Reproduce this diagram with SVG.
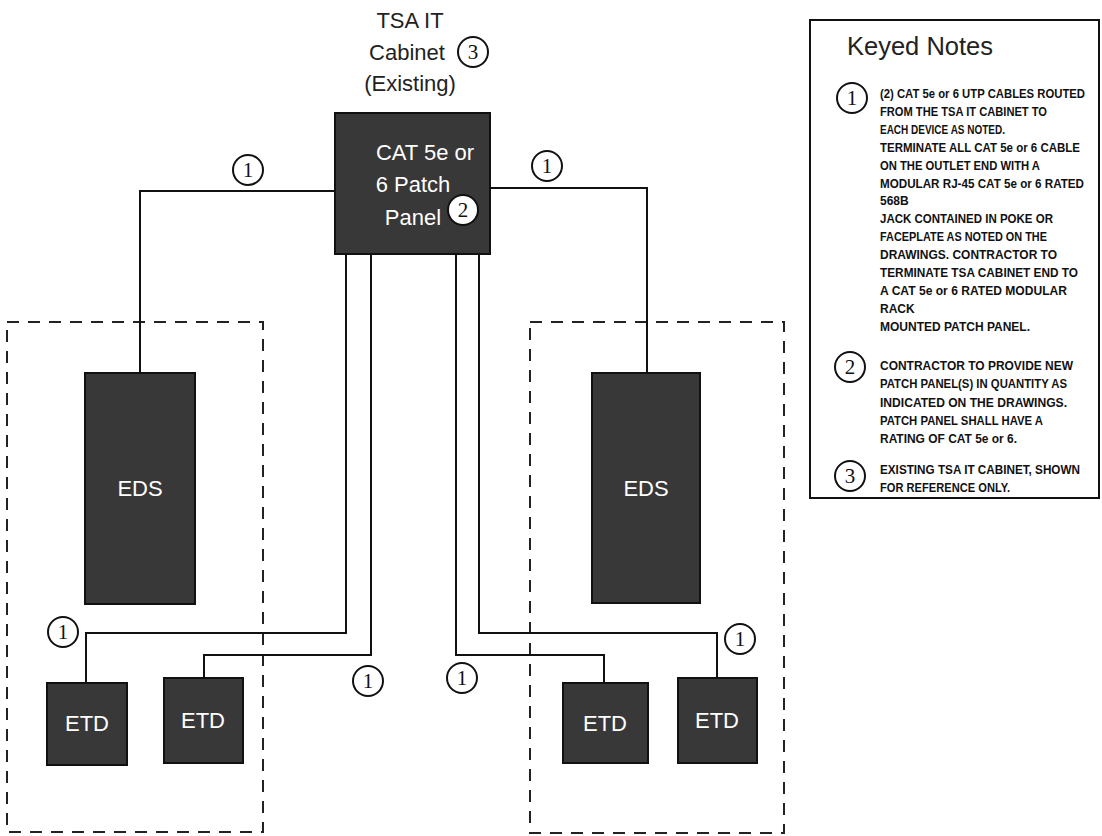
<svg xmlns="http://www.w3.org/2000/svg" width="1102" height="836" viewBox="0 0 1102 836">
<style>
.node{fill:#383838;stroke:#111;stroke-width:2}
.wt{fill:#fff;font-family:"Liberation Sans",Arial,sans-serif;font-size:22px;text-anchor:middle}
.lbl{fill:#222;font-family:"Liberation Sans",Arial,sans-serif;font-size:22px;text-anchor:middle}
.wire{fill:none;stroke:#111;stroke-width:2}
.zone{fill:none;stroke:#222;stroke-width:2;stroke-dasharray:12 9}
.kc{fill:#fff;stroke:#111;stroke-width:2}
.kn{fill:#111;font-family:"Liberation Serif","Times New Roman",serif;font-size:21px;text-anchor:middle}
.nt{fill:#111;font-family:"Liberation Sans",Arial,sans-serif;font-size:12px;font-weight:bold}
.ttl{fill:#222;font-family:"Liberation Sans",Arial,sans-serif;font-size:25px}
</style>
<rect width="1102" height="836" fill="#fff"/>

<g id="zones">
<rect class="zone" x="7" y="322" width="256" height="510"/>
<rect class="zone" x="530" y="322" width="254" height="511"/>
</g>

<g id="connectors">
<polyline class="wire" points="335,191 140,191 140,373"/>
<polyline class="wire" points="490,188 647,188 647,373"/>
<polyline class="wire" points="346,254 346,633 86,633 86,683"/>
<polyline class="wire" points="371,254 371,655 204,655 204,678"/>
<polyline class="wire" points="456,254 456,655 604,655 604,683"/>
<polyline class="wire" points="479,254 479,633 717,633 717,678"/>
</g>

<g id="cabinet-label">
<text class="lbl" x="410" y="28">TSA IT</text>
<text class="lbl" x="407" y="60">Cabinet</text>
<text class="lbl" x="410" y="91">(Existing)</text>
<circle class="kc" cx="473" cy="52" r="15"/>
<text class="kn" x="473" y="59">3</text>
</g>

<g id="patch-panel">
<rect class="node" x="335" y="113" width="155" height="141"/>
<text class="wt" x="425" y="160">CAT 5e or</text>
<text class="wt" x="413" y="192">6 Patch</text>
<text class="wt" x="413" y="225">Panel</text>
<circle class="kc" cx="463" cy="210" r="15"/>
<text class="kn" x="463" y="217">2</text>
</g>

<g id="eds-left">
<rect class="node" x="85" y="373" width="110" height="231"/>
<text class="wt" x="140" y="496">EDS</text>
</g>
<g id="eds-right">
<rect class="node" x="592" y="373" width="108" height="230"/>
<text class="wt" x="646" y="496">EDS</text>
</g>
<g id="etd-1">
<rect class="node" x="47" y="683" width="80" height="82"/>
<text class="wt" x="87" y="731">ETD</text>
</g>
<g id="etd-2">
<rect class="node" x="164" y="678" width="79" height="85"/>
<text class="wt" x="203" y="728">ETD</text>
</g>
<g id="etd-3">
<rect class="node" x="563" y="683" width="85" height="80"/>
<text class="wt" x="605" y="731">ETD</text>
</g>
<g id="etd-4">
<rect class="node" x="678" y="678" width="79" height="85"/>
<text class="wt" x="717" y="728">ETD</text>
</g>

<g id="tags">
<circle class="kc" cx="248" cy="170" r="15"/><text class="kn" x="248" y="177">1</text>
<circle class="kc" cx="547" cy="166" r="15"/><text class="kn" x="547" y="173">1</text>
<circle class="kc" cx="63" cy="632" r="15"/><text class="kn" x="63" y="639">1</text>
<circle class="kc" cx="368" cy="681" r="15"/><text class="kn" x="368" y="688">1</text>
<circle class="kc" cx="462" cy="678" r="15"/><text class="kn" x="462" y="685">1</text>
<circle class="kc" cx="740" cy="639" r="15"/><text class="kn" x="740" y="646">1</text>
</g>

<g id="keyed-notes">
<rect x="810" y="20" width="289" height="478" fill="#fff" stroke="#111" stroke-width="2"/>
<text class="ttl" x="847" y="55" textLength="146" lengthAdjust="spacingAndGlyphs">Keyed Notes</text>
<circle class="kc" cx="852" cy="98" r="15"/><text class="kn" x="852" y="105">1</text>
<text class="nt" x="880" y="98" textLength="205" lengthAdjust="spacingAndGlyphs">(2) CAT 5e or 6 UTP CABLES ROUTED</text>
<text class="nt" x="880" y="116" textLength="167" lengthAdjust="spacingAndGlyphs">FROM THE TSA IT CABINET TO</text>
<text class="nt" x="880" y="134" textLength="125" lengthAdjust="spacingAndGlyphs">EACH DEVICE AS NOTED.</text>
<text class="nt" x="880" y="152" textLength="200" lengthAdjust="spacingAndGlyphs">TERMINATE ALL CAT 5e or 6 CABLE</text>
<text class="nt" x="880" y="170" textLength="160" lengthAdjust="spacingAndGlyphs">ON THE OUTLET END WITH A</text>
<text class="nt" x="880" y="188" textLength="204" lengthAdjust="spacingAndGlyphs">MODULAR RJ-45 CAT 5e or 6 RATED</text>
<text class="nt" x="880" y="205">568B</text>
<text class="nt" x="880" y="223" textLength="173" lengthAdjust="spacingAndGlyphs">JACK CONTAINED IN POKE OR</text>
<text class="nt" x="880" y="241" textLength="167" lengthAdjust="spacingAndGlyphs">FACEPLATE AS NOTED ON THE</text>
<text class="nt" x="880" y="259" textLength="177" lengthAdjust="spacingAndGlyphs">DRAWINGS. CONTRACTOR TO</text>
<text class="nt" x="880" y="277" textLength="198" lengthAdjust="spacingAndGlyphs">TERMINATE TSA CABINET END TO</text>
<text class="nt" x="880" y="295" textLength="187" lengthAdjust="spacingAndGlyphs">A CAT 5e or 6 RATED MODULAR</text>
<text class="nt" x="880" y="313">RACK</text>
<text class="nt" x="880" y="331" textLength="150" lengthAdjust="spacingAndGlyphs">MOUNTED PATCH PANEL.</text>
<circle class="kc" cx="850" cy="367" r="15"/><text class="kn" x="850" y="374">2</text>
<text class="nt" x="880" y="370" textLength="193" lengthAdjust="spacingAndGlyphs">CONTRACTOR TO PROVIDE NEW</text>
<text class="nt" x="880" y="388" textLength="187" lengthAdjust="spacingAndGlyphs">PATCH PANEL(S) IN QUANTITY AS</text>
<text class="nt" x="880" y="407" textLength="187" lengthAdjust="spacingAndGlyphs">INDICATED ON THE DRAWINGS.</text>
<text class="nt" x="880" y="425" textLength="163" lengthAdjust="spacingAndGlyphs">PATCH PANEL SHALL HAVE A</text>
<text class="nt" x="880" y="443" textLength="137" lengthAdjust="spacingAndGlyphs">RATING OF CAT 5e or 6.</text>
<circle class="kc" cx="850" cy="476" r="15"/><text class="kn" x="850" y="483">3</text>
<text class="nt" x="880" y="474" textLength="200" lengthAdjust="spacingAndGlyphs">EXISTING TSA IT CABINET, SHOWN</text>
<text class="nt" x="880" y="492" textLength="130" lengthAdjust="spacingAndGlyphs">FOR REFERENCE ONLY.</text>
</g>
</svg>
